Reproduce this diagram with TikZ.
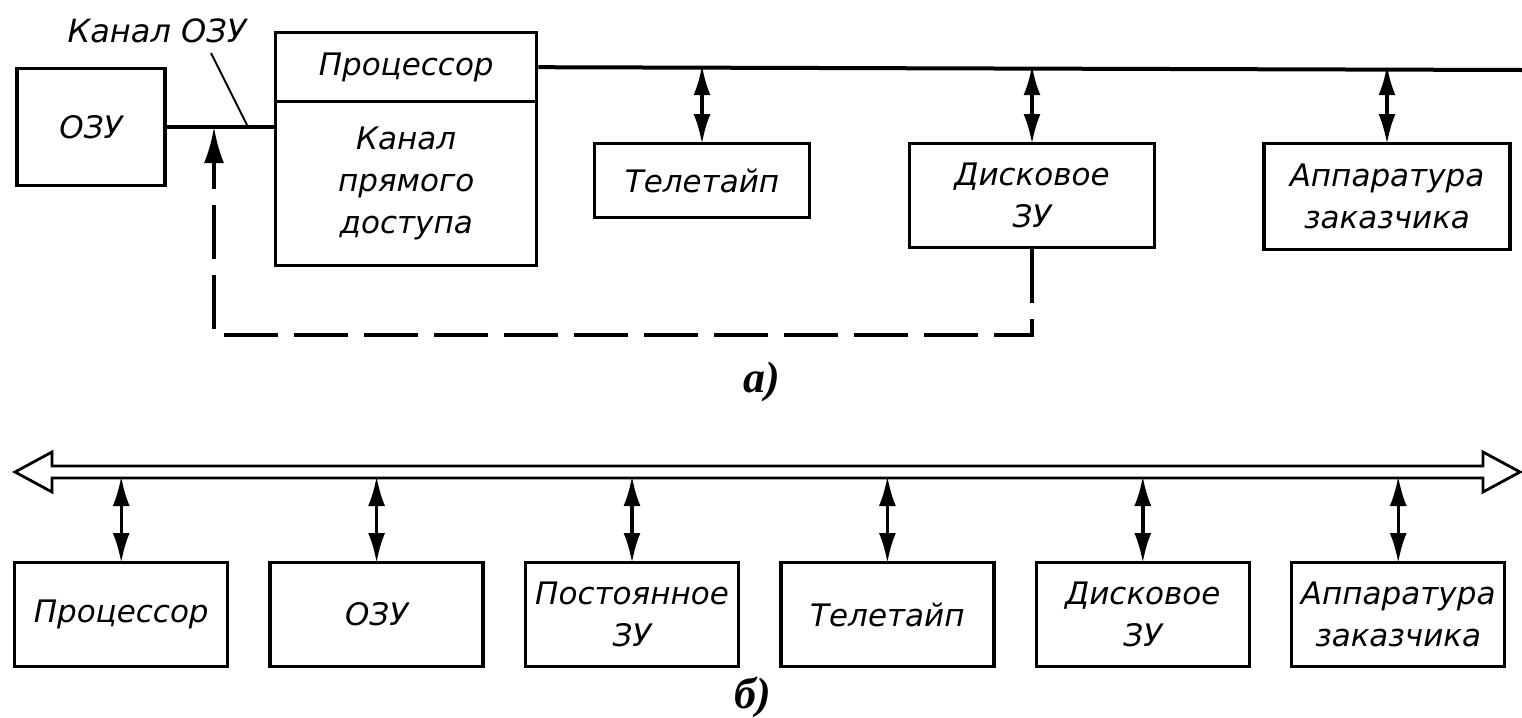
\documentclass[tikz,border=0pt]{standalone}
\usepackage{fontspec}
\setmainfont{DejaVu Sans}
\newfontfamily\markfont{Liberation Serif}
\usetikzlibrary{arrows.meta,positioning}

\tikzset{
  unit/.style={draw, line width=1.7pt, inner sep=0pt, align=center,
    font=\itshape\fontsize{15.5}{21}\selectfont},
  rowbox/.style={unit, minimum width=106.5pt, minimum height=52pt},
  link/.style={line width=1.7pt, shorten <=-1pt, shorten >=-1pt,
    {Latex[length=15pt,width=8.5pt]}-{Latex[length=15pt,width=8.5pt]}},
  busline/.style={line width=2pt},
  dashlink/.style={line width=1.8pt, dash pattern=on 27pt off 8pt,
    -{Latex[length=18pt,width=10pt]}},
  caption/.style={font=\markfont\bfseries\itshape\fontsize{22}{24}\selectfont},
}

\begin{document}
\begin{tikzpicture}[x=0.5pt, y=-0.5pt, node distance=19.5pt]
  \useasboundingbox (0,0) rectangle (1522,718);

  % upper scheme: processor with its own channel
  \node[unit, minimum width=74pt, minimum height=58.5pt]      (ram)
  at (91,127) {ОЗУ};
  \node[unit, anchor=north west, minimum width=130.5pt,
        minimum height=34.5pt]                                (cpu)
  at (274,31) {Процессор};
  \node[unit, below=-1.7pt of cpu, minimum width=130.5pt,
        minimum height=82pt]                                  (dma)
  {Канал\\прямого\\доступа};
  \node[unit, anchor=north, minimum width=107.5pt,
        minimum height=37pt]                                  (tty)
  at (702,142) {Телетайп};
  \node[unit, anchor=north, minimum width=122.5pt,
        minimum height=52pt]                                  (disk)
  at (1032,142) {Дисковое\\ЗУ};
  \node[unit, anchor=north, minimum width=123pt,
        minimum height=53pt]                                  (user)
  at (1387,142) {Аппаратура\\заказчика};
  \node[font=\itshape\fontsize{16}{21}\selectfont]            (chlabel)
  at (157,31) {Канал ОЗУ};

  \coordinate (bus end) at (1522,70);
  \coordinate (ch tick) at (211,53);
  \coordinate (ch tap)  at (248,127);
  \coordinate (dma tap) at (214,127);
  \coordinate (loop)    at (214,335);

  \draw[busline] (cpu.east) -- (bus end);
  \draw[busline] (ram.east) -- (dma.west |- ram.east);
  \draw[line width=1pt] (ch tick) -- (ch tap);
  \draw[link] (tty.north |- cpu.east)  -- (tty.north);
  \draw[link] (disk.north |- cpu.east) -- (disk.north);
  \draw[link] (user.north |- cpu.east) -- (user.north);
  \draw[dashlink] (disk.south) |- (loop) -- (dma tap);

  \node[caption] (cap a) at (762,382) {а)};

  % lower scheme: common bus
  \draw[line width=1.4pt] (15,472) -- (52,452) -- (52,466) -- (1483,466)
    -- (1483,452) -- (1520,472) -- (1483,492) -- (1483,478) -- (52,478)
    -- (52,492) -- cycle;
  \coordinate (bus) at (0,478);

  \node[rowbox, anchor=north west] (cpu2) at (13,561) {Процессор};
  \node[rowbox, right=of cpu2]     (ram2)  {ОЗУ};
  \node[rowbox, right=of ram2]     (rom2)  {Постоянное\\ЗУ};
  \node[rowbox, right=of rom2]     (tty2)  {Телетайп};
  \node[rowbox, right=of tty2]     (disk2) {Дисковое\\ЗУ};
  \node[rowbox, right=of disk2]    (user2) {Аппаратура\\заказчика};

  \foreach \n in {cpu2,ram2,rom2,tty2,disk2,user2}
    \draw[link] (\n.north |- bus) -- (\n.north);

  \node[caption] (cap b) at (753,697) {б)};
\end{tikzpicture}
\end{document}
